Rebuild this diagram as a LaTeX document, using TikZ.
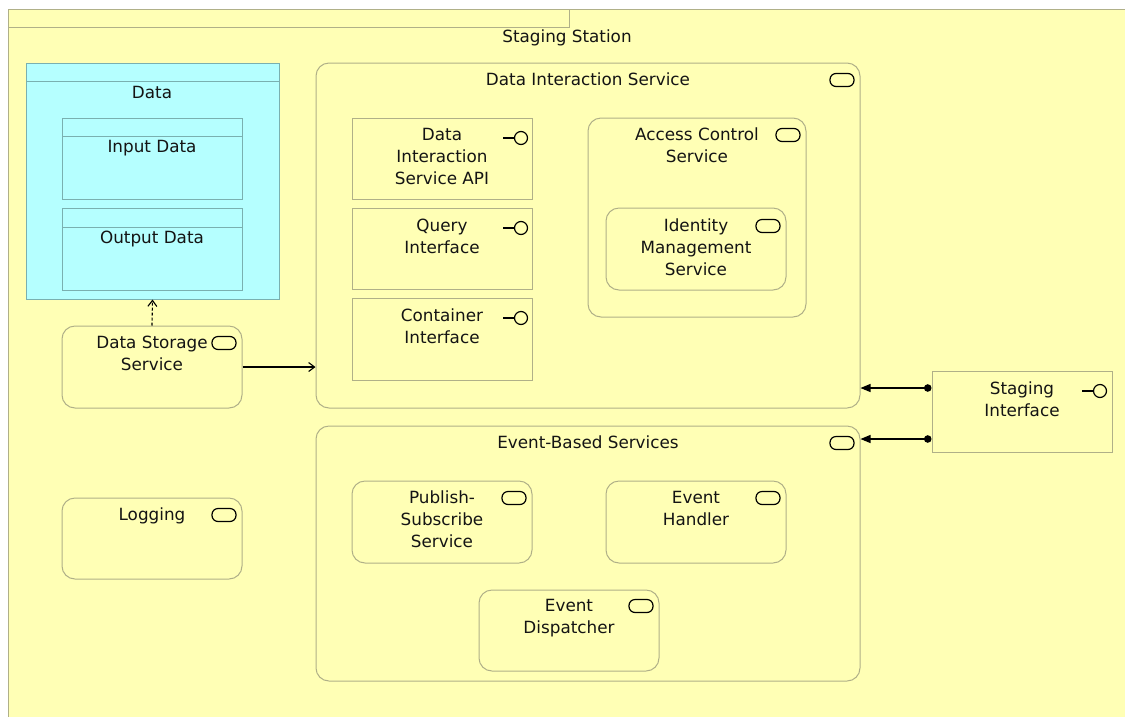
\documentclass[tikz,border=0pt]{standalone}
\usepackage{fontspec}
\setmainfont{DejaVu Sans}
\usetikzlibrary{arrows.meta}
\definecolor{bizfill}{HTML}{FFFFB5}
\definecolor{bizline}{HTML}{B0B088}
\definecolor{datafill}{HTML}{B5FFFF}
\definecolor{dataline}{HTML}{7AB0B0}
\newcommand{\firstline}{\rule{0pt}{13pt}}
\tikzset{
  box/.style={draw=bizline, fill=bizfill, line width=1pt, inner sep=0pt, rectangle},
  rbox/.style={box, rounded corners=13pt},
  dbox/.style={draw=dataline, fill=datafill, line width=1pt, inner sep=0pt, rectangle},
  lbl/.style={font=\fontsize{16.8}{22}\selectfont, text=black!92, align=center, inner sep=0pt, anchor=north},
  svcicon/.pic={\draw[black, line width=1.2pt, rounded corners=6pt] (-12,-6.5) rectangle (12,6.5);},
  ifcicon/.pic={\draw[black, line width=1.2pt] (0,0) circle (6.5pt); \draw[black, line width=1.2pt] (-6.5,0) -- (-18,0);},
  flow/.style={black, line width=1.1pt},
}
\begin{document}
\begin{tikzpicture}[x=1pt, y=-1pt]
\useasboundingbox (0,0) rectangle (1125,716);
% the location frame with its name tab
\fill[white] (0,0) rectangle (1125,716);
\draw[draw=bizline, fill=bizfill, line width=1pt] (8,9.5) rectangle (1140,730);
\draw[draw=bizline, line width=1pt] (8,27) -- (569,27) -- (569,9.5);
\node[lbl] (stationlbl) at (567,29.5) {\firstline Staging Station};

% data object with its two parts
\node[dbox, minimum width=253pt, minimum height=236pt] (data) at (152.5,181) {};
\draw[draw=dataline, line width=1pt] (26,81) -- (279,81);
\node[lbl] (datalbl) at (152,85.5) {\firstline Data};
\node[dbox, minimum width=180pt, minimum height=81pt] (input) at (152,158.5) {};
\draw[draw=dataline, line width=1pt] (62,136) -- (242,136);
\node[lbl] (inputlbl) at (152,139.5) {\firstline Input Data};
\node[dbox, minimum width=180pt, minimum height=82pt] (output) at (152,249) {};
\draw[draw=dataline, line width=1pt] (62,227) -- (242,227);
\node[lbl] (outputlbl) at (152,230.5) {\firstline Output Data};

% left column services
\node[rbox, minimum width=180pt, minimum height=82pt] (dss) at (152,367) {};
\node[lbl] (dsslbl) at (152,335.5) {\firstline Data Storage\\Service};
\pic at (224,343) {svcicon};
\node[rbox, minimum width=180pt, minimum height=81pt] (logging) at (152,538.5) {};
\node[lbl] (logginglbl) at (152,507.5) {\firstline Logging};
\pic at (224,515) {svcicon};

% data interaction service
\node[rbox, minimum width=544pt, minimum height=345pt] (dis) at (588,235.5) {};
\node[lbl] (dislbl) at (588,72.5) {\firstline Data Interaction Service};
\pic at (842,80) {svcicon};
\node[box, minimum width=180pt, minimum height=81pt] (api) at (442,158.5) {};
\node[lbl] (apilbl) at (442,127.5) {\firstline Data\\Interaction\\Service API};
\pic at (521,138) {ifcicon};
\node[box, minimum width=180pt, minimum height=81pt] (query) at (442,248.5) {};
\node[lbl] (querylbl) at (442,218.5) {\firstline Query\\Interface};
\pic at (521,228) {ifcicon};
\node[box, minimum width=180pt, minimum height=82pt] (cont) at (442,339) {};
\node[lbl] (contlbl) at (442,308.5) {\firstline Container\\Interface};
\pic at (521,318) {ifcicon};
\node[rbox, minimum width=218pt, minimum height=199pt] (acs) at (697,217.5) {};
\node[lbl] (acslbl) at (697,127.5) {\firstline Access Control\\Service};
\pic at (788,135) {svcicon};
\node[rbox, minimum width=180pt, minimum height=82pt] (idm) at (696,249) {};
\node[lbl] (idmlbl) at (696,218.5) {\firstline Identity\\Management\\Service};
\pic at (768,226) {svcicon};

% event-based services
\node[rbox, minimum width=544pt, minimum height=255pt] (ebs) at (588,553.5) {};
\node[lbl] (ebslbl) at (588,435.5) {\firstline Event-Based Services};
\pic at (842,443) {svcicon};
\node[rbox, minimum width=180pt, minimum height=82pt] (pub) at (442,522) {};
\node[lbl] (publbl) at (442,490.5) {\firstline Publish-\\Subscribe\\Service};
\pic at (514,498) {svcicon};
\node[rbox, minimum width=180pt, minimum height=82pt] (evh) at (696,522) {};
\node[lbl] (evhlbl) at (696,490.5) {\firstline Event\\Handler};
\pic at (768,498) {svcicon};
\node[rbox, minimum width=180pt, minimum height=81pt] (evd) at (569,630.5) {};
\node[lbl] (evdlbl) at (569,598.5) {\firstline Event\\Dispatcher};
\pic at (641,606) {svcicon};

% staging interface
\node[box, minimum width=180pt, minimum height=81pt] (si) at (1022,411.5) {};
\node[lbl] (silbl) at (1022,381) {\firstline Staging\\Interface};
\pic at (1100,391) {ifcicon};

% relations
\draw[flow, dash pattern=on 3pt off 2pt, -{Straight Barb[length=6pt,width=9pt]}] (dss.north) -- (data.south);
\draw[flow, -{Straight Barb[length=6pt,width=9pt]}] (dss.east) -- (dss.east -| dis.west);
\draw[flow, {Circle[length=7.5pt]}-{Triangle[length=10pt,width=8pt]}] ([yshift=-17.5pt]si.north west) -- ([yshift=-17.5pt]si.north west -| dis.east);
\draw[flow, {Circle[length=7.5pt]}-{Triangle[length=10pt,width=8pt]}] ([yshift=13.5pt]si.south west) -- ([yshift=13.5pt]si.south west -| ebs.east);
\end{tikzpicture}
\end{document}
